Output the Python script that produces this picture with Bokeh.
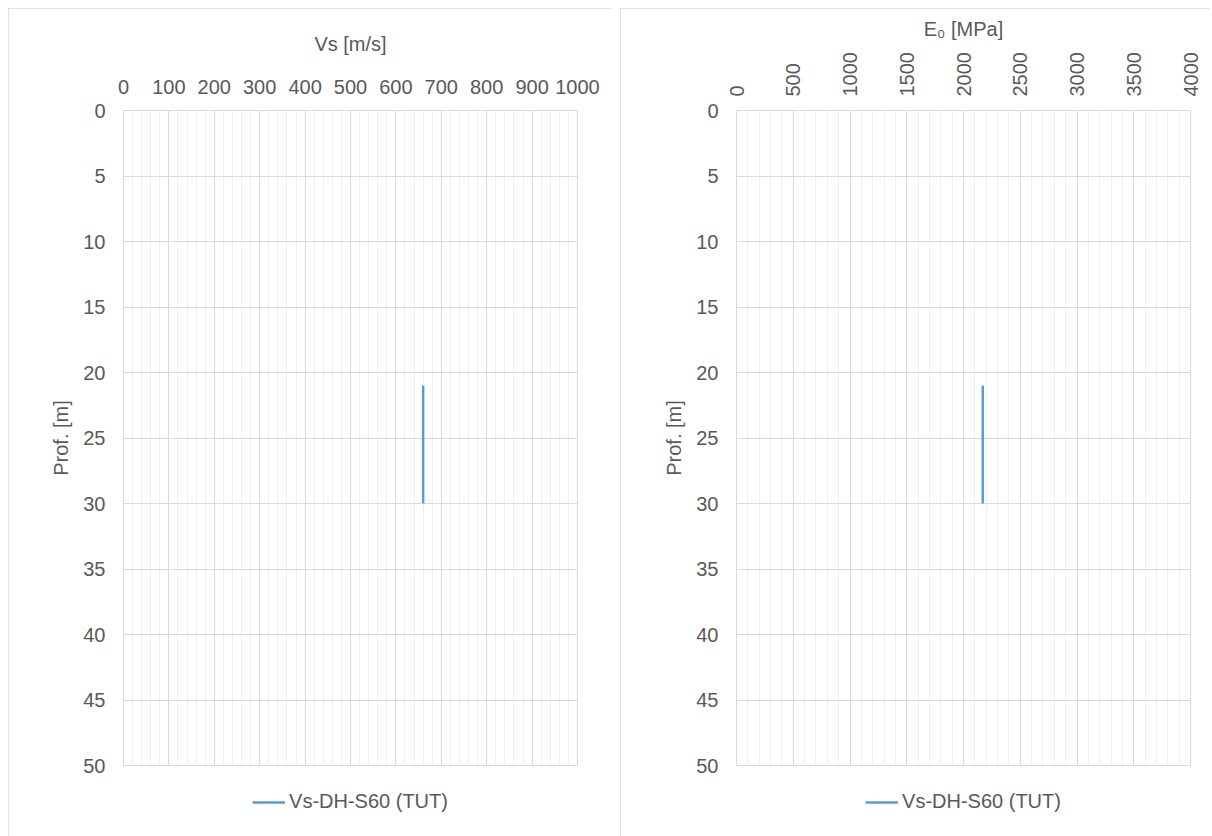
from bokeh.plotting import figure
from bokeh.models import Range1d, FixedTicker, Legend, LegendItem
from bokeh.layouts import row
from bokeh.embed import file_html
from bokeh.resources import INLINE
import math

# ---- data ----
depth = [21, 30]
vs = [660, 660]
e0 = [2170, 2170]
series_name = "Vs-DH-S60 (TUT)"
y_ticks = list(range(0, 51, 5))
vs_ticks = list(range(0, 1001, 100))
vs_minor = list(range(0, 1001, 20))
e0_ticks = list(range(0, 4001, 500))
e0_minor = list(range(0, 4001, 100))

FONT = "Liberation Sans"
TXT = "#595959"
FW, FH = 454, 655


def make(x, xmax, ticks, minor, xtitle, width, bl, rotate):
    br = width - bl - FW
    p = figure(frame_width=FW, frame_height=FH, x_range=Range1d(0, xmax), y_range=Range1d(50, 0),
               x_axis_location="above", output_backend="svg", toolbar_location=None,
               min_border_left=bl, min_border_right=br, min_border_top=102,
               min_border_bottom=0)
    p.outline_line_color = "#d9d9d9"
    p.background_fill_color = "white"
    p.border_fill_color = "white"
    p.styles = {"outline": "1px solid #d9d9d9", "outline-offset": "-1px"}

    xa = p.xaxis[0]
    xa.ticker = FixedTicker(ticks=ticks, minor_ticks=minor)
    xa.axis_label = xtitle
    ya = p.yaxis[0]
    ya.ticker = FixedTicker(ticks=y_ticks)
    ya.axis_label = "Prof. [m]"
    for a in (xa, ya):
        a.axis_line_color = None
        a.major_tick_line_color = None
        a.minor_tick_line_color = None
        a.major_tick_out = 0
        a.major_tick_in = 0
        a.minor_tick_out = 0
        a.major_label_text_font = FONT
        a.major_label_text_font_size = "20px"
        a.major_label_text_color = TXT
        a.axis_label_text_font = FONT
        a.axis_label_text_font_size = "20px"
        a.axis_label_text_font_style = "normal"
        a.axis_label_text_color = TXT
    ya.major_label_standoff = 18
    ya.axis_label_standoff = 8
    if rotate:
        xa.major_label_orientation = math.pi / 2
        xa.major_label_standoff = 14
        xa.axis_label_standoff = 9
    else:
        xa.major_label_standoff = 17
        xa.axis_label_standoff = 22

    p.xgrid.ticker = FixedTicker(ticks=ticks, minor_ticks=minor)
    p.xgrid.grid_line_color = "#d9d9d9"
    p.xgrid.minor_grid_line_color = "#efefef"
    p.ygrid.ticker = FixedTicker(ticks=y_ticks)
    p.ygrid.grid_line_color = "#d9d9d9"

    r = p.line(x, depth, line_color="#5b9bd5", line_width=2.5)
    leg = Legend(items=[LegendItem(label=series_name, renderers=[r])],
                 location="top_center", orientation="horizontal",
                 label_text_font=FONT, label_text_font_size="20px",
                 label_text_color=TXT, glyph_width=33, label_standoff=4,
                 border_line_color=None, background_fill_alpha=0,
                 margin=25, padding=5)
    p.add_layout(leg, "below")
    return p


p1 = make(vs, 1000, vs_ticks, vs_minor, "Vs [m/s]", 604, 115, False)
p2 = make(e0, 4000, e0_ticks, e0_minor, "E\u2080 [MPa]", 590, 116, True)

layout = row(p1, p2, spacing=8, margin=(8, 0, 0, 8))
open("out.html", "w").write(file_html(layout, INLINE))
